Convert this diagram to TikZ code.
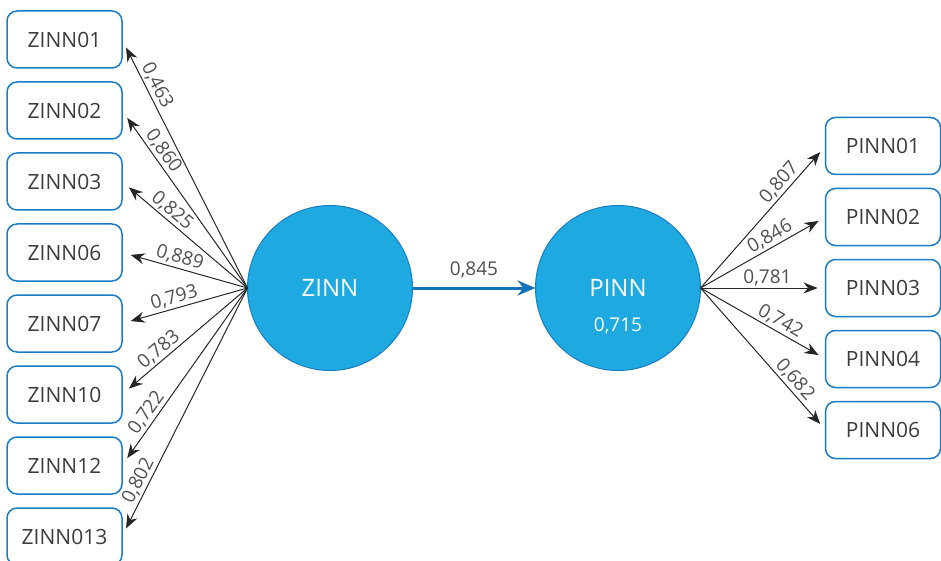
\documentclass[tikz,border=0pt]{standalone}
\usepackage{fontspec}
\setmainfont{Open Sans}
\usepackage{tikz}
\usetikzlibrary{arrows.meta,positioning}
\definecolor{boxblue}{HTML}{1B7BC4}
\definecolor{circfill}{HTML}{1EA9E1}
\definecolor{circline}{HTML}{1A7DC0}
\definecolor{pathblue}{HTML}{1572B8}
\definecolor{txtgray}{HTML}{3C3C3C}
\tikzset{
    mynode/.style={rectangle,rounded corners=5pt,draw=boxblue,line width=0.75pt, minimum width=57.5pt, minimum height=28.5pt, outer sep=0pt, text=txtgray, font=\fontsize{10.5}{12}\selectfont},
    mycircle/.style={circle,draw=circline,fill=circfill,line width=0.5pt, minimum size=82.5pt, outer sep=0pt, text=white, font=\fontsize{12}{14}\selectfont},
    pil/.style={-{Stealth[length=7pt,width=5.5pt]}, draw=black!85, line width=0.5pt, shorten >=4.5pt},
    bigpil/.style={-{Stealth[length=9pt,width=7.5pt]}, draw=pathblue, line width=1.5pt},
    wert/.style={sloped, above, inner sep=1pt, text=txtgray!90, font=\fontsize{9.5}{11}\selectfont}
}

\begin{document}
\begin{tikzpicture}[x=0.5pt, y=0.5pt]
    \useasboundingbox (0,0) rectangle (941,-561);

    % latent variables
    \node[mycircle] (zinn) at (330,-288) {ZINN};
    \node[mycircle, right=61.5pt of zinn] (pinn) {PINN};
    \node[wert, anchor=center, text=white] (pinnr2) at ([yshift=-19pt]pinn.center) {0,715};

    % indicators of ZINN
    \node[mynode] (zinn01) at (64.5,-39.5) {ZINN01};
    \node[mynode, below=7pt of zinn01] (zinn02) {ZINN02};
    \node[mynode, below=7pt of zinn02] (zinn03) {ZINN03};
    \node[mynode, below=7pt of zinn03] (zinn06) {ZINN06};
    \node[mynode, below=7pt of zinn06] (zinn07) {ZINN07};
    \node[mynode, below=7pt of zinn07] (zinn10) {ZINN10};
    \node[mynode, below=7pt of zinn10] (zinn12) {ZINN12};
    \node[mynode, below=7pt of zinn12] (zinn013) {ZINN013};

    % indicators of PINN
    \node[mynode, right=62.5pt of pinn] (pinn03) {PINN03};
    \node[mynode, above=7pt of pinn03] (pinn02) {PINN02};
    \node[mynode, above=7pt of pinn02] (pinn01) {PINN01};
    \node[mynode, below=7pt of pinn03] (pinn04) {PINN04};
    \node[mynode, below=7pt of pinn04] (pinn06) {PINN06};

    % loadings
    \path (zinn.west)
        edge[pil] node[wert, pos=0.795] {0,463} (zinn01.east)
        edge[pil] node[wert, pos=0.738] {0,860} (zinn02.east)
        edge[pil] node[wert, pos=0.654] {0,825} (zinn03.east)
        edge[pil] node[wert, pos=0.562] {0,889} (zinn06.east)
        edge[pil] node[wert, pos=0.561] {0,793} (zinn07.east)
        edge[pil] node[wert, pos=0.652] {0,783} (zinn10.east)
        edge[pil] node[wert, pos=0.737] {0,722} (zinn12.east)
        edge[pil] node[wert, pos=0.795] {0,802} (zinn013.east);
    \path (pinn.east)
        edge[pil, shorten >=4pt] node[wert, pos=0.693] {0,807} (pinn01.west)
        edge[pil, shorten >=4pt] node[wert, pos=0.597] {0,846} (pinn02.west)
        edge[pil, shorten >=4pt] node[wert, pos=0.536] {0,781} (pinn03.west)
        edge[pil, shorten >=4pt] node[wert, pos=0.597] {0,742} (pinn04.west)
        edge[pil, shorten >=4pt] node[wert, pos=0.693] {0,682} (pinn06.west);

    % path coefficient
    \draw[bigpil] (zinn) -- node[wert, inner sep=4.5pt] {0,845} (pinn);
\end{tikzpicture}
\end{document}
